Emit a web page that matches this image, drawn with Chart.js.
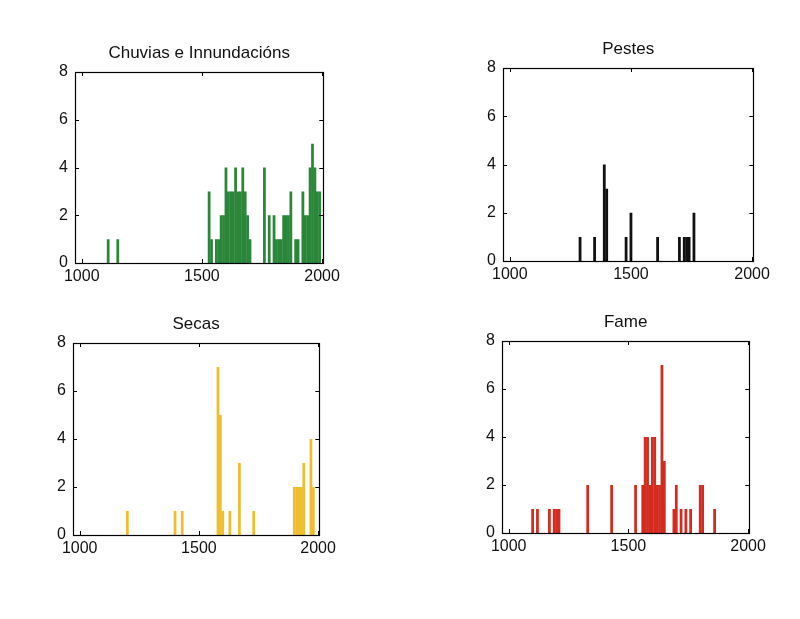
<!DOCTYPE html>
<html>
<head>
<meta charset="utf-8">
<script src="https://cdn.jsdelivr.net/npm/chart.js@4/dist/chart.umd.min.js"></script>
<style>
  html, body { margin: 0; padding: 0; background: #fff; }
  #page { position: relative; width: 800px; height: 619px; overflow: hidden; background: #fff; }
  .panel { position: absolute; }
</style>
</head>
<body>
<div id="page"></div>
<script>
// ---------- data ----------
const xTickValues = [1000, 1500, 2000];
const yTickValues = [0, 2, 4, 6, 8];

const chuviasTitle = "Chuvias e Innundacións";
const chuviasYears  = [1110,1150,1530,1540,1560,1570,1580,1590,1600,1610,1620,1630,1640,1650,1660,1670,1680,1690,1700,1760,1780,1800,1810,1820,1830,1840,1850,1860,1870,1890,1900,1920,1930,1940,1950,1960,1970,1980,1990];
const chuviasCounts = [1,1,3,1,1,1,2,2,4,3,3,3,4,3,3,4,3,2,1,4,2,2,1,1,1,2,2,2,3,1,1,3,2,2,4,5,4,3,3];

const pestesTitle = "Pestes";
const pestesYears  = [1290,1350,1390,1400,1480,1500,1610,1700,1720,1730,1740,1760];
const pestesCounts = [1,1,4,3,1,2,1,1,1,1,1,2];

const secasTitle = "Secas";
const secasYears  = [1200,1400,1430,1580,1590,1600,1630,1670,1730,1900,1910,1920,1930,1940,1970,1980];
const secasCounts = [1,1,1,7,5,1,1,3,1,2,2,2,2,3,4,2];

const fameTitle = "Fame";
const fameYears  = [1100,1120,1170,1190,1200,1210,1330,1430,1530,1560,1570,1580,1590,1600,1610,1620,1630,1640,1650,1690,1700,1720,1740,1760,1800,1810,1860];
const fameCounts = [1,1,1,1,1,1,2,2,2,2,4,4,2,4,4,2,2,7,3,1,2,1,1,1,2,2,1];

// ---------- layout / style ----------
const X_MIN = 972, X_MAX = 2005;
const Y_MIN = 0, Y_MAX = 8;
const PAD_L = 50, PAD_T = 45, PAD_R = 20, PAD_B = 35;
const FONT = '"Liberation Sans", Arial, Helvetica, sans-serif';

const panels = [
  { title: chuviasTitle, years: chuviasYears, counts: chuviasCounts, color: '#2a8639', box: { left: 75,  top: 72,  width: 249, height: 191 } },
  { title: pestesTitle,  years: pestesYears,  counts: pestesCounts,  color: '#111111', box: { left: 503, top: 68,  width: 251, height: 193 } },
  { title: secasTitle,   years: secasYears,   counts: secasCounts,   color: '#f0bd2e', box: { left: 73,  top: 343, width: 247, height: 192 } },
  { title: fameTitle,    years: fameYears,    counts: fameCounts,    color: '#d42a1f', box: { left: 502, top: 341, width: 248, height: 192 } }
];

const framePlugin = {
  id: 'frame',
  afterDraw(chart, args, opts) {
    const ctx = chart.ctx;
    const a = chart.chartArea;
    const xs = chart.scales.x, ys = chart.scales.y;
    ctx.save();
    ctx.strokeStyle = '#000';
    ctx.lineWidth = 1.2;
    ctx.strokeRect(Math.round(a.left) + 0.5, Math.round(a.top) + 0.5,
                   Math.round(a.right - a.left), Math.round(a.bottom - a.top));
    ctx.lineWidth = 1;
    ctx.beginPath();
    yTickValues.forEach(v => {
      const y = Math.round(ys.getPixelForValue(v)) + 0.5;
      ctx.moveTo(a.left, y); ctx.lineTo(a.left + 4, y);
      ctx.moveTo(a.right - 4, y); ctx.lineTo(a.right, y);
    });
    xTickValues.forEach(v => {
      const x = Math.round(xs.getPixelForValue(v)) + 0.5;
      ctx.moveTo(x, a.bottom); ctx.lineTo(x, a.bottom - 4);
      ctx.moveTo(x, a.top); ctx.lineTo(x, a.top + 4);
    });
    ctx.stroke();
    // title
    ctx.fillStyle = '#111';
    ctx.font = '17px ' + FONT;
    ctx.textAlign = 'center';
    ctx.textBaseline = 'alphabetic';
    ctx.fillText(opts.text, (a.left + a.right) / 2, a.top - 14);
    ctx.restore();
  }
};

const page = document.getElementById('page');
panels.forEach(p => {
  const W = p.box.width + PAD_L + PAD_R;
  const H = p.box.height + PAD_T + PAD_B;
  const div = document.createElement('div');
  div.className = 'panel';
  div.style.left = (p.box.left - PAD_L) + 'px';
  div.style.top = (p.box.top - PAD_T) + 'px';
  div.style.width = W + 'px';
  div.style.height = H + 'px';
  const cv = document.createElement('canvas');
  cv.width = W; cv.height = H;
  cv.style.width = W + 'px'; cv.style.height = H + 'px';
  div.appendChild(cv);
  page.appendChild(div);

  new Chart(cv, {
    type: 'bar',
    data: {
      datasets: [{
        data: p.years.map((yr, i) => ({ x: yr, y: p.counts[i] })),
        backgroundColor: p.color,
        borderWidth: 0,
        barPercentage: 1.15,
        categoryPercentage: 1.0
      }]
    },
    options: {
      responsive: false,
      animation: false,
      devicePixelRatio: 1,
      layout: { padding: { top: PAD_T, right: PAD_R, left: 0, bottom: 0 } },
      plugins: {
        legend: { display: false },
        title: { display: false },
        tooltip: { enabled: false },
        frame: { text: p.title }
      },
      scales: {
        x: {
          type: 'linear',
          min: X_MIN, max: X_MAX,
          offset: false,
          grid: { display: false, drawTicks: false },
          border: { display: false },
          afterBuildTicks: s => { s.ticks = xTickValues.map(v => ({ value: v })); },
          afterFit: s => { s.height = PAD_B; },
          ticks: {
            autoSkip: false, maxRotation: 0, padding: 4,
            color: '#111', font: { family: FONT, size: 16 },
            callback: v => String(v)
          }
        },
        y: {
          min: Y_MIN, max: Y_MAX,
          grid: { display: false, drawTicks: false },
          border: { display: false },
          afterBuildTicks: s => { s.ticks = yTickValues.map(v => ({ value: v })); },
          afterFit: s => { s.width = PAD_L; },
          ticks: {
            padding: 7,
            color: '#111', font: { family: FONT, size: 16 },
            callback: v => String(v)
          }
        }
      }
    },
    plugins: [framePlugin]
  });
});
</script>
</body>
</html>
